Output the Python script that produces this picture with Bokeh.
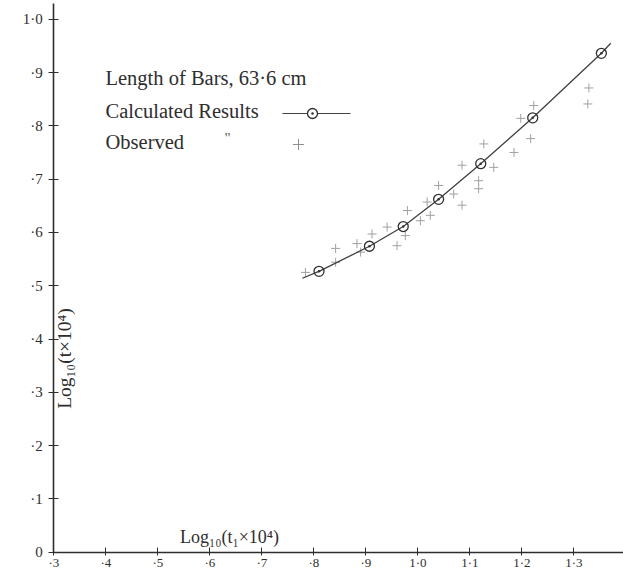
import math
from bokeh.plotting import figure
from bokeh.models import FixedTicker, Label, Range1d
from bokeh.embed import file_html
from bokeh.resources import INLINE

# ---- data ----
x_ticks = [0.3, 0.4, 0.5, 0.6, 0.7, 0.8, 0.9, 1.0, 1.1, 1.2, 1.3]
x_tick_labels = ["·3", "·4", "·5", "·6", "·7", "·8", "·9", "1·0", "1·1", "1·2", "1·3"]
y_ticks = [0.0, 0.1, 0.2, 0.3, 0.4, 0.5, 0.6, 0.7, 0.8, 0.9, 1.0]
y_tick_labels = ["0", "·1", "·2", "·3", "·4", "·5", "·6", "·7", "·8", "·9", "1·0"]

calc_x = [0.810, 0.907, 0.972, 1.040, 1.121, 1.221, 1.353]
calc_y = [0.527, 0.574, 0.611, 0.662, 0.729, 0.815, 0.936]

curve_x = [0.778, 0.810, 0.907, 0.972, 1.040, 1.121, 1.221, 1.353, 1.371]
curve_y = [0.514, 0.527, 0.574, 0.611, 0.662, 0.729, 0.815, 0.936, 0.955]

obs_x = [0.784, 0.842, 0.842, 0.883, 0.890, 0.912, 0.941, 0.960, 0.980, 0.976,
         1.005, 1.018, 1.024, 1.040, 1.069, 1.085, 1.085, 1.117, 1.117, 1.127,
         1.146, 1.185, 1.198, 1.217, 1.223, 1.329, 1.327]
obs_y = [0.525, 0.570, 0.544, 0.579, 0.563, 0.597, 0.610, 0.575, 0.641, 0.594,
         0.622, 0.657, 0.632, 0.688, 0.672, 0.726, 0.651, 0.697, 0.682, 0.766,
         0.722, 0.750, 0.814, 0.776, 0.838, 0.871, 0.841]

title_text = "Length of Bars, 63·6 cm"
calc_text = "Calculated Results"
obs_text = "Observed"
x_label = "Log\u2081\u2080(t\u2081\u00d710\u2074)"
y_label = "Log\u2081\u2080(t\u00d710\u2074)"

# ---- layout ----
W, H = 623, 571
PX_X = 520.0   # pixels per unit x
PX_Y = 533.0   # pixels per unit y
x0_pix = 53.3  # canvas x of x=0.3
y0_pix = 551.7 # canvas y of y=0

x_start = 0.3 - x0_pix / PX_X
x_end = x_start + W / PX_X
y_start = -(H - y0_pix) / PX_Y
y_end = y0_pix / PX_Y

# convert reference-picture pixel positions (for annotations) to data units
def rx(px):
    return 0.3 + (px - 53.3) / 520.0

def ry(py):
    return (551.7 - py) / 533.0

FONT = "Liberation Serif"
INK = "#2e2e2e"

p = figure(width=W, height=H, x_range=Range1d(x_start, x_end), y_range=Range1d(y_start, y_end),
           output_backend="svg", toolbar_location=None,
           min_border_left=0, min_border_right=0, min_border_top=0, min_border_bottom=0)
p.outline_line_color = None
p.xgrid.visible = False
p.ygrid.visible = False
p.background_fill_color = "white"
p.border_fill_color = "white"

# axes
p.xaxis.fixed_location = 0
p.yaxis.fixed_location = 0.3
p.xaxis.bounds = (0.3, 1.4)
p.yaxis.bounds = (0.0, 1.03)
p.xaxis.ticker = FixedTicker(ticks=x_ticks)
p.yaxis.ticker = FixedTicker(ticks=y_ticks)
p.xaxis.major_label_overrides = dict(zip(x_ticks, x_tick_labels))
p.yaxis.major_label_overrides = dict(zip(y_ticks, y_tick_labels))
for ax in (p.xaxis, p.yaxis):
    ax.axis_line_color = INK
    ax.axis_line_width = 1.6
    ax.major_tick_line_color = INK
    ax.major_tick_line_width = 1
    ax.major_tick_in = 5
    ax.major_tick_out = 5
    ax.minor_tick_line_color = None
    ax.major_label_text_font = FONT
    ax.major_label_text_color = INK
p.yaxis.major_label_text_font_size = "15px"
p.yaxis.major_label_standoff = 6
p.xaxis.major_label_text_font_size = "13px"
p.xaxis.major_tick_out = 3
p.xaxis.major_label_standoff = 0

# observed
p.scatter(obs_x, obs_y, marker="cross", size=9, line_color="#a0a0a0", line_width=1)
# calculated curve and points
p.line(curve_x, curve_y, line_color="#404040", line_width=1.3)
p.scatter(calc_x, calc_y, marker="circle_dot", size=10, line_color="#303030",
          fill_color=None, line_width=1.3)

# key
lab_kw = dict(text_font=FONT, text_color=INK, text_baseline="middle", text_align="left")
p.add_layout(Label(x=rx(105), y=ry(77), text=title_text, text_font_size="20.5px", **lab_kw))
p.add_layout(Label(x=rx(105), y=ry(110), text=calc_text, text_font_size="20.5px", **lab_kw))
p.add_layout(Label(x=rx(105), y=ry(141), text=obs_text, text_font_size="20.5px", **lab_kw))
p.add_layout(Label(x=rx(227), y=ry(137), text='"', text_font_size="15px",
                   text_font=FONT, text_color="#555555", text_baseline="middle", text_align="center"))
p.line([rx(282), rx(350)], [ry(113), ry(113)], line_color="#404040", line_width=1.2)
p.scatter([rx(312)], [ry(113)], marker="circle_dot", size=10, line_color="#303030",
          fill_color="white", line_width=1.3)
p.scatter([rx(298)], [ry(144)], marker="cross", size=11, line_color="#909090", line_width=1)

# axis titles
p.add_layout(Label(x=rx(229), y=ry(536), text=x_label, text_font_size="18px",
                   text_font=FONT, text_color=INK, text_align="center", text_baseline="middle"))
p.add_layout(Label(x=rx(64), y=ry(358), text=y_label, text_font_size="19.5px", angle=math.pi / 2,
                   text_font=FONT, text_color=INK, text_align="center", text_baseline="middle"))

open("out.html", "w").write(file_html(p, INLINE))
